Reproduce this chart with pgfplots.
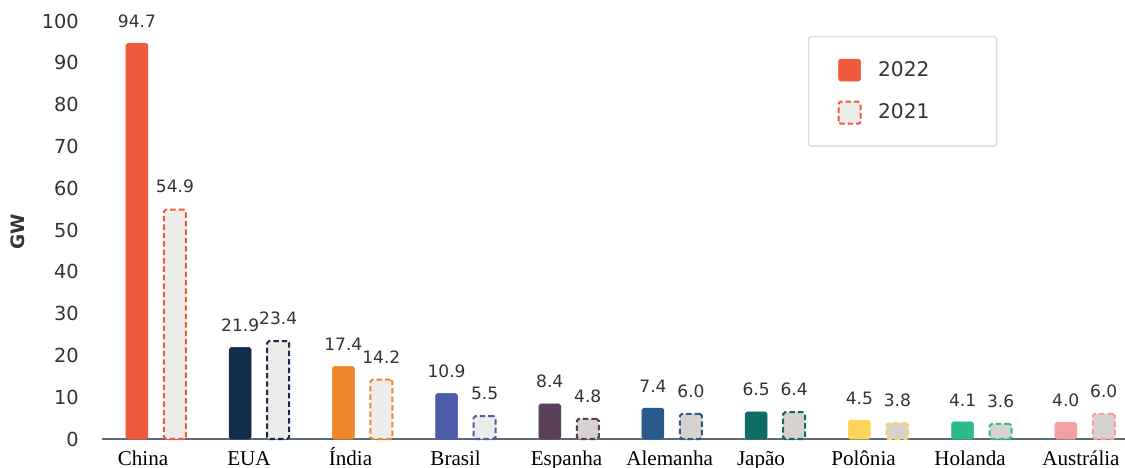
\documentclass[border=0pt]{standalone}
\usepackage{pgfplots}
\pgfplotsset{compat=1.18}
\usepackage{fontspec}
\setmainfont{DejaVu Sans}
\newfontfamily\catfont{Liberation Serif}

\definecolor{cChina}{HTML}{EF5A3C}
\definecolor{cEUA}{HTML}{152B4A}
\definecolor{cIndia}{HTML}{F0862A}
\definecolor{cBrasil}{HTML}{4B5BA8}
\definecolor{cEspanha}{HTML}{5A3F5A}
\definecolor{cAlemanha}{HTML}{2A5A8C}
\definecolor{cJapao}{HTML}{0F6B66}
\definecolor{cPolonia}{HTML}{FDD55A}
\definecolor{cHolanda}{HTML}{2FBB88}
\definecolor{cAustralia}{HTML}{F5A0A0}
\definecolor{fillA}{HTML}{ECEDEA}
\definecolor{fillB}{HTML}{D8D2CE}
\definecolor{axisgray}{HTML}{5B6B7B}
\definecolor{txtgray}{HTML}{333333}
\definecolor{boxgray}{HTML}{DDDDDD}

% one pair of bars: position, 2022 value, 2021 value, colour, 2021 fill
\newcommand{\pair}[5]{%
  \addplot[bar22, draw=#4, fill=#4] coordinates {(#1,#2)};
  \addplot[bar21, draw=#4, fill=#5] coordinates {(#1,#3)};
}

\begin{document}
\begin{tikzpicture}[x=1cm,y=1cm]
\begin{axis}[
  name=ax,
  scale only axis,
  width=20.46cm, height=8.36cm,
  xmin=-0.523, xmax=9.39,
  ymin=0, ymax=100,
  clip=false,
  ybar,
  bar width=0.44cm,
  ytick={0,10,...,100},
  % country names sit slightly left of their bar pairs
  xtick={-0.126,0.901,1.885,2.904,3.978,4.978,5.863,6.856,7.888,8.963},
  xticklabels={China,EUA,Índia,Brasil,Espanha,Alemanha,Japão,Polônia,Holanda,Austrália},
  major tick length=0pt,
  axis x line*=bottom,
  axis y line*=left,
  x axis line style={-, draw=axisgray, line width=1.14pt},
  y axis line style={draw=none},
  /pgf/number format/assume math mode=true,
  yticklabel style={font=\fontsize{11}{13}\selectfont, text=txtgray, xshift=-0.34cm},
  xticklabel style={font=\catfont\fontsize{12}{14}\selectfont, text=black,
    text height=8.5pt, text depth=2.5pt, yshift=-0.11cm},
  ylabel={GW},
  every axis y label/.style={at={(axis description cs:-0.082,0.495)},
    rotate=90, anchor=center, font=\bfseries\fontsize{10.5}{12}\selectfont, text=txtgray},
  nodes near coords,
  nodes near coords style={font=\fontsize{9.7}{11}\selectfont, text=txtgray,
    anchor=south, yshift=5.5pt,
    /pgf/number format/.cd, fixed, fixed zerofill, precision=1},
  bar22/.style={line width=0.3pt, bar shift=-0.38cm, rounded corners=1.1pt},
  bar21/.style={line width=1.14pt, dash pattern=on 3.1pt off 1.7pt, bar shift=0.38cm, rounded corners=1.1pt},
  legend image code/.code={\draw[#1, rounded corners=1.4pt] (0cm,-0.22cm) rectangle (0.44cm,0.22cm);},
  legend style={at={(rel axis cs:0.690,0.964)}, anchor=north west,
    draw=boxgray, line width=0.8pt, rounded corners=1.1pt, fill=white,
    inner xsep=0.58cm, inner ysep=0.42cm, row sep=0.36cm,
    font=\fontsize{11.5}{13}\selectfont, text=txtgray,
    /tikz/every odd column/.append style={column sep=0.26cm},
    nodes={text width=1.72cm, align=left}},
  legend entries={2022,2021},
]
\pair{0}{94.7}{54.9}{cChina}{fillA}
\pair{1}{21.9}{23.4}{cEUA}{fillA}
\pair{2}{17.4}{14.2}{cIndia}{fillA}
\pair{3}{10.9}{5.5}{cBrasil}{fillA}
\pair{4}{8.4}{4.8}{cEspanha}{fillB}
\pair{5}{7.4}{6.0}{cAlemanha}{fillB}
\pair{6}{6.5}{6.4}{cJapao}{fillB}
\pair{7}{4.5}{3.8}{cPolonia}{fillB}
\pair{8}{4.1}{3.6}{cHolanda}{fillB}
\pair{9}{4.0}{6.0}{cAustralia}{fillB}
\end{axis}
\pgfresetboundingbox
\path ([shift={(-2.04cm,-0.58cm)}]ax.south west) rectangle ([shift={(0cm,0.42cm)}]ax.north east);
\end{tikzpicture}
\end{document}
